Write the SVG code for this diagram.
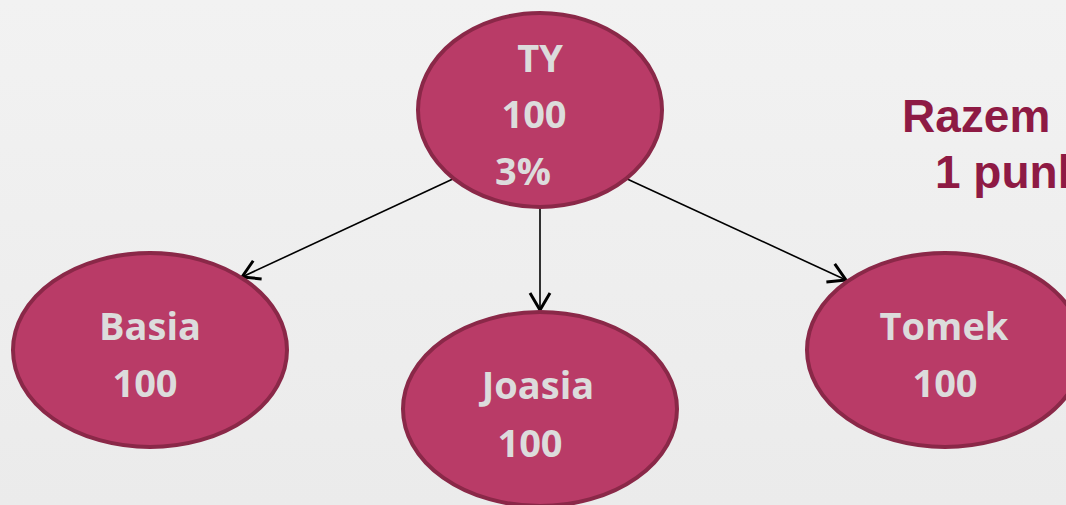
<svg xmlns="http://www.w3.org/2000/svg" width="1066" height="505" viewBox="0 0 1066 505">
<defs>
<linearGradient id="bg" x1="0" y1="0" x2="0" y2="1">
<stop offset="0" stop-color="#f2f2f2"/>
<stop offset="1" stop-color="#ebebeb"/>
</linearGradient>
<marker id="arr" viewBox="-22 -12 26 24" refX="0" refY="0" markerWidth="26" markerHeight="24" markerUnits="userSpaceOnUse" orient="auto">
<path d="M-17,-10 L0,0 L-17,10" fill="none" stroke="#000" stroke-width="3"/>
</marker>
<style>
.node ellipse{fill:#b93b67;stroke:#8a2848;stroke-width:4}
.lbl{font-family:"Open Sans","Liberation Sans",sans-serif;font-weight:bold;font-size:38px;fill:#dcdcdc}
.conn line{stroke:#000;stroke-width:1.6;marker-end:url(#arr)}
.note{font-family:"Liberation Sans",Arial,sans-serif;font-weight:bold;font-size:46px;fill:#8e1a44}
</style>
</defs>
<rect width="1066" height="505" fill="url(#bg)"/>
<g id="connectors" class="conn">
<line x1="455" y1="178" x2="242" y2="277"/>
<line x1="540" y1="207" x2="540" y2="310"/>
<line x1="625" y1="178" x2="846" y2="280"/>
</g>
<g id="node-ty" class="node">
<ellipse cx="540" cy="110" rx="122" ry="97"/>
<text class="lbl" x="540" y="72" text-anchor="middle">TY</text>
<text class="lbl" x="534" y="128" text-anchor="middle">100</text>
<text class="lbl" x="495" y="185">3%</text>
</g>
<g id="node-basia" class="node">
<ellipse cx="150" cy="350" rx="137" ry="97"/>
<text class="lbl" x="150" y="340" text-anchor="middle">Basia</text>
<text class="lbl" x="145" y="397" text-anchor="middle">100</text>
</g>
<g id="node-joasia" class="node">
<ellipse cx="540" cy="409" rx="137" ry="97"/>
<text class="lbl" x="538" y="399" text-anchor="middle">Joasia</text>
<text class="lbl" x="530" y="457" text-anchor="middle">100</text>
</g>
<g id="node-tomek" class="node">
<ellipse cx="945" cy="350" rx="138" ry="97"/>
<text class="lbl" x="944" y="340" text-anchor="middle">Tomek</text>
<text class="lbl" x="945" y="397" text-anchor="middle">100</text>
</g>
<g id="note">
<text class="note" x="902" y="132">Razem</text>
<text class="note" x="935" y="188">1 punk</text>
</g>
</svg>
